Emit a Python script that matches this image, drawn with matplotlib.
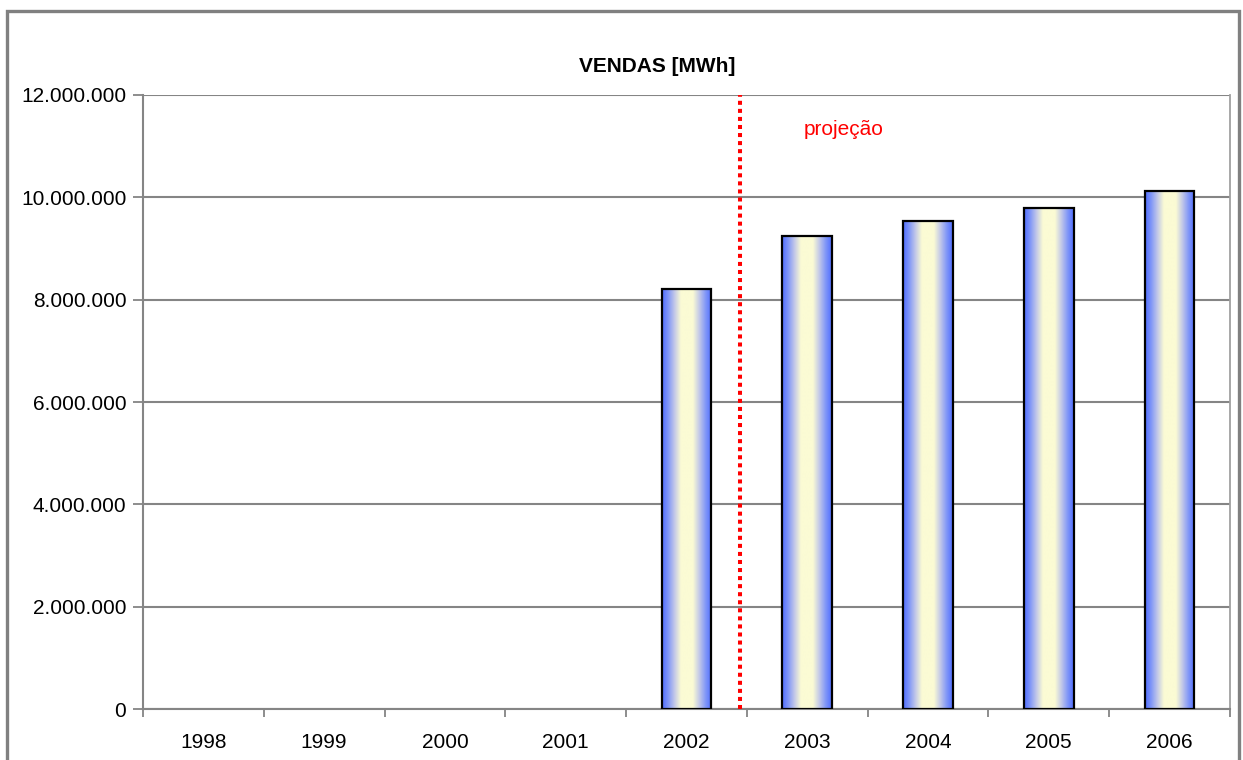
import numpy as np
import matplotlib
matplotlib.use('Agg')
import matplotlib.pyplot as plt
from matplotlib.colors import LinearSegmentedColormap
from matplotlib.patches import Rectangle
from matplotlib.ticker import FuncFormatter, FixedLocator

plt.rcParams['font.family'] = ['Liberation Sans', 'DejaVu Sans']

# data
years = ['1998', '1999', '2000', '2001', '2002', '2003', '2004', '2005', '2006']
sales = [0, 0, 0, 0, 8200000, 9250000, 9530000, 9800000, 10120000]
y_ticks = [0, 2000000, 4000000, 6000000, 8000000, 10000000, 12000000]
projection_label = 'projeção'
title = 'VENDAS [MWh]'

grad = LinearSegmentedColormap.from_list(
    'barfill', [(0.0, '#4f6dff'), (0.12, '#7f95f8'), (0.25, '#c2c8e8'),
                (0.38, '#fbfbd4'), (0.62, '#fbfbd4'), (0.75, '#c2c8e8'),
                (0.88, '#7f95f8'), (1.0, '#4f6dff')])

fig = plt.figure(figsize=(12.43, 7.6), dpi=100)
ax = fig.add_axes([0.1150, 0.0671, 0.9895 - 0.1150, 0.875 - 0.0671])

x = np.arange(len(years))

# gridlines
for t in y_ticks:
    ax.axhline(t, color='#858585', lw=1.5, zorder=1)

# bars with horizontal gradient fill (only years with data)
width = 0.41
has_data = [i for i, v in enumerate(sales) if v > 0]
bars = ax.bar([x[i] for i in has_data], [sales[i] for i in has_data], width=width,
              facecolor='none', edgecolor='black', linewidth=1.6, zorder=4)
gradient = np.linspace(0, 1, 256).reshape(1, -1)
for b in bars:
    x0 = b.get_x()
    im = ax.imshow(gradient, cmap=grad, aspect='auto', zorder=3,
                   extent=[x0, x0 + width, 0, b.get_height()], interpolation='bilinear')
    im.set_clip_path(b)
ax.set_xlim(-0.5, len(years) - 0.5)
ax.set_ylim(0, 12000000)

# projection divider
ax.axvline(4.44, color='#ff0000', lw=2.9, linestyle=(0, (1, 1)),
           dash_capstyle='butt', zorder=5)
ax.text(4.97, 11320000, projection_label, color='#ff0000', fontsize=15,
        ha='left', va='center')

fig.text(657 / 1243, 1 - 66 / 760, title, fontsize=15, fontweight='bold',
         ha='center', va='center')

# axes styling
ax.spines['top'].set_visible(False)
ax.spines['left'].set_color('#858585')
ax.spines['bottom'].set_color('#858585')
ax.spines['right'].set_color('#a0a0a0')
ax.spines['left'].set_linewidth(1.5)
ax.spines['bottom'].set_linewidth(1.5)
ax.spines['right'].set_linewidth(1.3)

ax.yaxis.set_major_locator(FixedLocator(y_ticks))
ax.yaxis.set_major_formatter(FuncFormatter(lambda v, p: f'{int(v):,}'.replace(',', '.')))
ax.tick_params(axis='y', direction='out', length=7, width=1.3, color='#858585',
               labelsize=15, pad=5)

ax.set_xticks(x)
ax.set_xticklabels(years)
ax.tick_params(axis='x', which='major', length=0, labelsize=15, pad=17)
ax.set_xticks(np.arange(len(years) + 1) - 0.5, minor=True)
ax.tick_params(axis='x', which='minor', direction='out', length=6, width=1.3,
               color='#858585')

# outer frame of the chart
fig.patches.append(Rectangle((7 / 1243, -0.05), (1239 - 7) / 1243, 1.05 - 11 / 760,
                             transform=fig.transFigure, fill=False,
                             edgecolor='#808080', linewidth=2.4))

fig.savefig('out.png', dpi=100)
